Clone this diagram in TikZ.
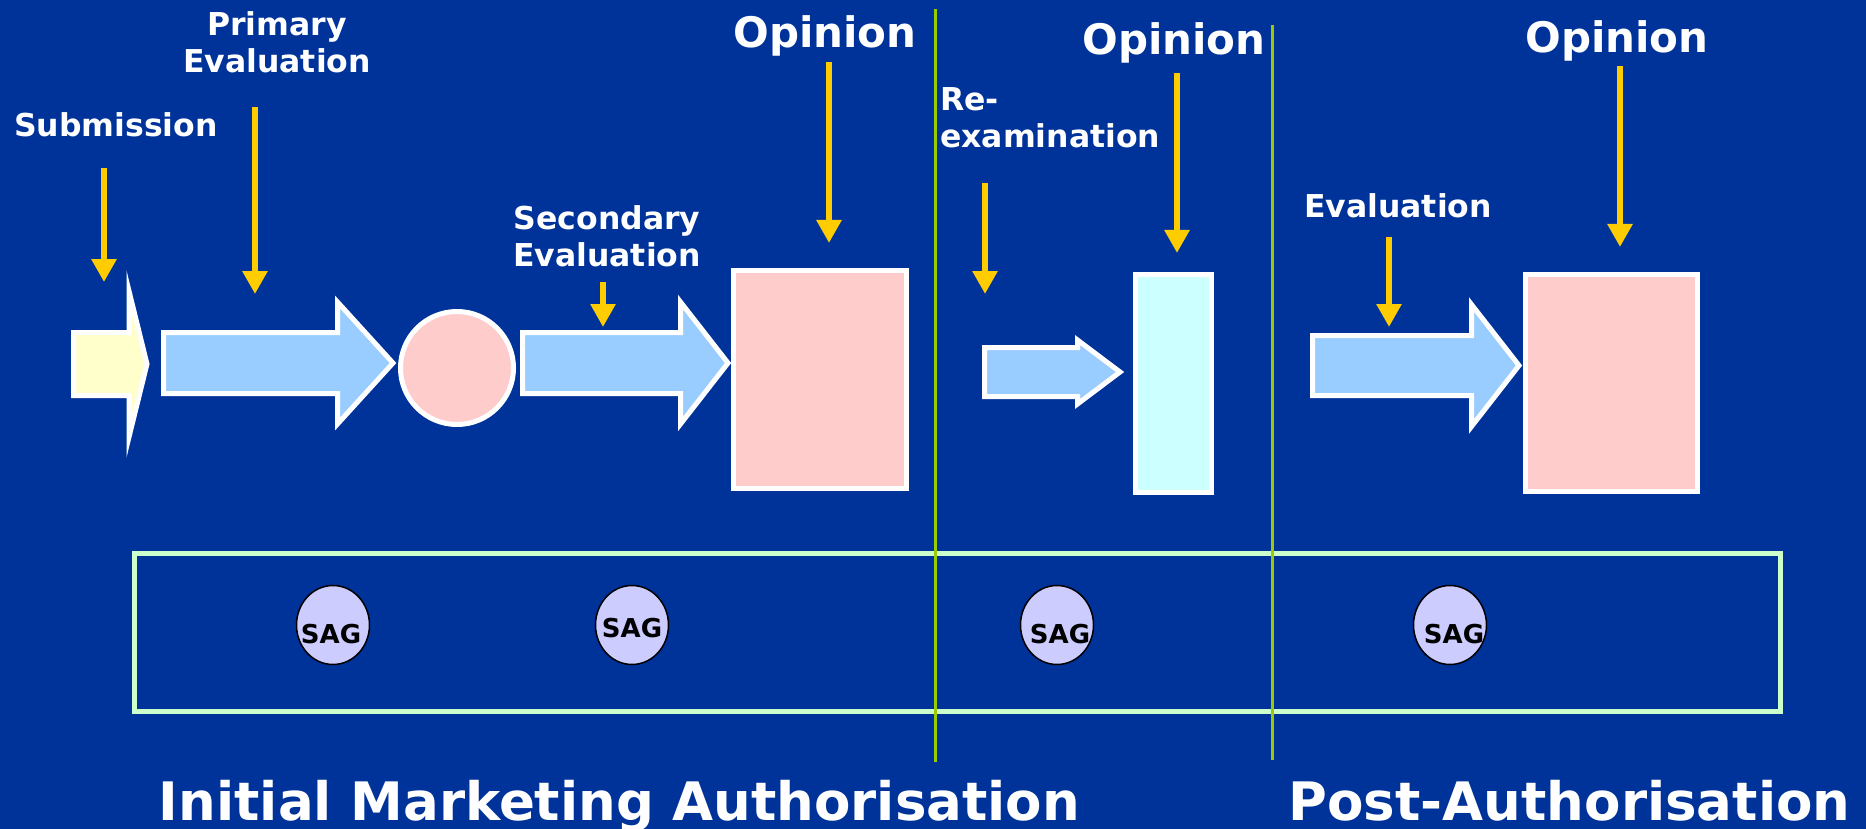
\documentclass[tikz,border=0pt]{standalone}
\usepackage{fontspec}
\setmainfont{DejaVu Sans}
\usetikzlibrary{arrows.meta,shapes.geometric}
\definecolor{slideblue}{HTML}{003399}
\definecolor{pointeryellow}{HTML}{FFCC00}
\definecolor{arrowblue}{HTML}{99CCFF}
\definecolor{opinionpink}{HTML}{FFCCCC}
\definecolor{paleyellow}{HTML}{FFFFCC}
\definecolor{palecyan}{HTML}{CCFFFF}
\definecolor{saglilac}{HTML}{CCCCFF}
\definecolor{palegreen}{HTML}{CCFFCC}
\definecolor{dividergreen}{HTML}{99CC00}
\tikzstyle{pointer}=[draw=pointeryellow,line width=6pt,-{Triangle[width=24pt,length=23pt]}]
\tikzstyle{blockarrow}=[draw=white,line width=5pt,line join=miter]
\tikzstyle{stagebox}=[draw=white,line width=5pt,inner sep=0pt]
\tikzstyle{divider}=[draw=dividergreen,line width=3pt]
\tikzstyle{steplabel}=[text=white,font=\fontsize{31.5}{37}\selectfont\bfseries,inner sep=0pt,anchor=base,align=center]
\tikzstyle{opiniontext}=[text=white,font=\fontsize{42}{48}\selectfont\bfseries,inner sep=0pt,anchor=base]
\tikzstyle{phasetitle}=[text=white,font=\fontsize{53}{60}\selectfont\bfseries,inner sep=0pt,anchor=base]
\tikzstyle{sag}=[ellipse,draw=black,line width=1.5pt,fill=saglilac,minimum width=73pt,minimum height=79pt,inner sep=0pt]
\tikzstyle{sagtext}=[font=\fontsize{26}{30}\selectfont\bfseries,inner sep=0pt]
\newcommand{\drawblockarrow}[8][arrowblue]{% [fill]{name}{left}{head}{tip}{mid y}{shaft half}{head half}
  \coordinate (#2) at (#5,#6);
  \draw[blockarrow,fill=#1] (#3,#6-#7) -- (#4,#6-#7) -- (#4,#6-#8) -- (#2)
    -- (#4,#6+#8) -- (#4,#6+#7) -- (#3,#6+#7) -- cycle;
}
\newcommand{\newpointer}[4]{% name, x, top y, tip y
  \coordinate (#1top) at (#2,#3);
  \coordinate (#1tip) at (#2,#4);
  \draw[pointer] (#1top) -- (#1tip);
}
\begin{document}
\begin{tikzpicture}[x=1pt,y=-1pt]
	\fill[slideblue] (0,0) rectangle (1866,829);
	\useasboundingbox (0,0) rectangle (1866,829);
	% procedure steps
	\drawblockarrow[paleyellow]{submitarrow}{73.5}{129}{147}{364}{31.5}{73}
	\drawblockarrow{primaryarrow}{163.5}{337.5}{393}{363}{30.5}{61}
	\drawblockarrow{secondaryarrow}{522.5}{680.5}{728}{363}{30.5}{61}
	\drawblockarrow{reexamarrow}{984.5}{1077.5}{1120}{372}{24.5}{32}
	\drawblockarrow{evalarrow}{1312.5}{1471.5}{1519}{365.5}{30}{61}
	\node[stagebox,circle,fill=opinionpink,minimum size=113pt] (clockstop) at (457,368) {};
	\node[stagebox,fill=opinionpink,minimum width=173pt,minimum height=218pt] (opinionbox1) at (820,379.5) {};
	\node[stagebox,fill=palecyan,minimum width=76pt,minimum height=218pt] (opinionbox2) at (1173.5,383.5) {};
	\node[stagebox,fill=opinionpink,minimum width=172pt,minimum height=217pt] (opinionbox3) at (1611.5,383) {};
	% labels (two-line labels sit on their last line)
	\node[steplabel] (submission) at (116,137) {Submission};
	\node[steplabel] (primaryeval) at (277,73) {Primary\\Evaluation};
	\node[steplabel] (secondaryeval) at (607,266) {Secondary\\Evaluation};
	\node[steplabel,anchor=base west,align=left] (reexam) at (940,148) {Re-\\examination};
	\node[steplabel] (evaluation) at (1398,218) {Evaluation};
	\node[opiniontext] (opinion1) at (825,48) {Opinion};
	\node[opiniontext] (opinion2) at (1174,55) {Opinion};
	\node[opiniontext] (opinion3) at (1617,53) {Opinion};
	% pointers
	\newpointer{submitptr}{104}{168}{282}
	\newpointer{primaryptr}{255}{107}{294}
	\newpointer{secondaryptr}{603}{282}{327}
	\newpointer{opinionptr1}{829}{62}{243}
	\newpointer{reexamptr}{985}{183}{294}
	\newpointer{opinionptr2}{1177}{73}{253}
	\newpointer{evalptr}{1389}{237}{327}
	\newpointer{opinionptr3}{1620}{66}{247}
	% SAG band
	\node[stagebox,draw=palegreen,minimum width=1646pt,minimum height=158pt] (sagband) at (957.5,632.5) {};
	\foreach \sx/\tx/\ty [count=\i] in {333/331/634, 632/632/628, 1057/1060/634, 1450/1454/634} {
		\node[sag] (sag\i) at (\sx,625) {};
		\node[sagtext] (sagtext\i) at (\tx,\ty) {SAG};
	}
	% phase dividers
	\coordinate (divonetop) at (935,9);
	\coordinate (divonebot) at (935,762);
	\coordinate (divtwotop) at (1272,25);
	\coordinate (divtwobot) at (1272,760);
	\draw[divider] (divonetop) -- (divonebot);
	\draw[divider] (divtwotop) -- (divtwobot);
	% phases
	\node[phasetitle] (initialma) at (619.5,820) {Initial Marketing Authorisation};
	\node[phasetitle] (postauth) at (1569.5,820) {Post-Authorisation};
\end{tikzpicture}
\end{document}
